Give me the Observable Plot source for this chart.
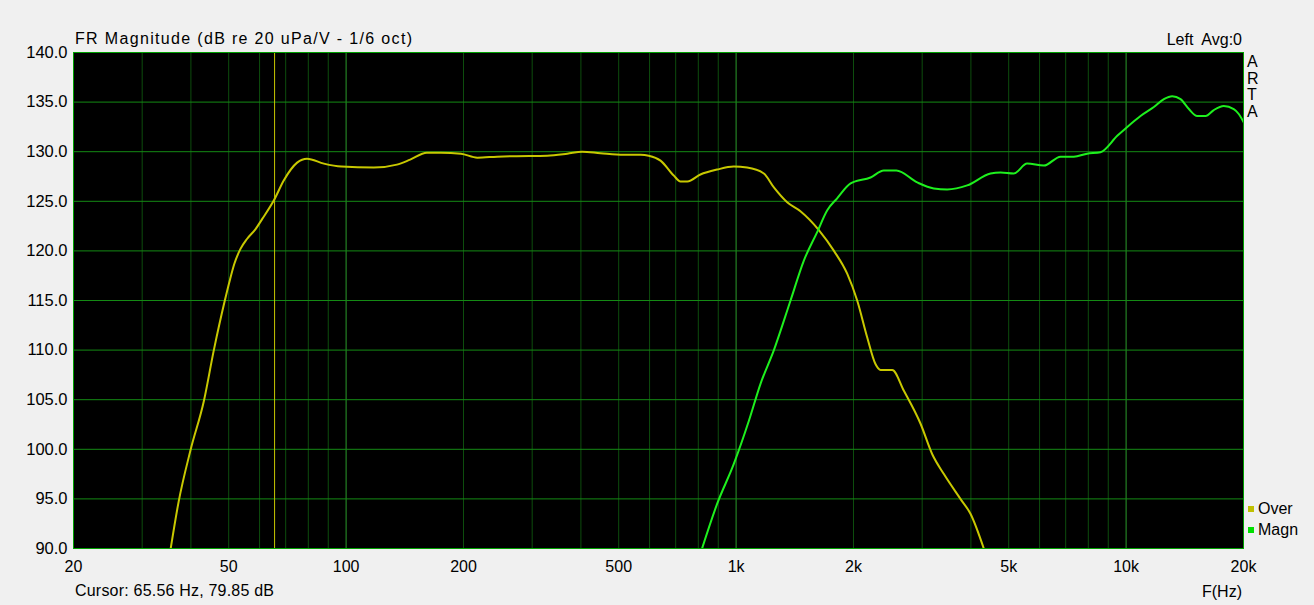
<!DOCTYPE html>
<html><head><meta charset="utf-8">
<script src="https://cdn.jsdelivr.net/npm/d3@7"></script>
<script src="https://cdn.jsdelivr.net/npm/@observablehq/plot@0.6"></script>
<style>
html,body{margin:0;padding:0;background:#f0f0f0;}
#chart svg{display:block;overflow:visible;}
</style></head><body><div id="chart"></div>
<script>
// ---- data ----
const overFreq = [35.5,37.2,39.9,43.2,45.8,48.8,50.3,51.7,53.6,55.7,58.6,60.9,65.3,69.2,74.9,79.4,87.7,97.3,117.8,135,146,161,175,197,217,244,269,328,369,403,449,515,569,597,640,692,720,750,810,894,986,1067,1178,1250,1352,1462,1630,1782,1927,2044,2168,2277,2346,2514,2693,2970,3184,3410,3760,3990,4316];
const overDb   = [90.0,94.7,99.9,104.9,110.0,114.9,117.0,118.7,120.2,121.2,122.2,123.2,125.1,127.1,128.9,129.3,128.8,128.5,128.4,128.7,129.2,129.9,129.9,129.8,129.4,129.5,129.55,129.6,129.8,130.0,129.85,129.7,129.7,129.6,129.1,127.6,127.0,127.0,127.7,128.2,128.5,128.4,127.8,126.4,124.9,124.0,122.1,120.0,117.7,115.0,111.3,108.6,108.0,108.0,105.9,102.6,99.5,97.5,95.0,93.5,90.0];
const magnFreq = [818,894,986,1079,1155,1250,1379,1491,1614,1713,1816,1966,2212,2392,2576,2914,3213,3477,3913,4491,4766,5153,5574,6153,6789,7343,7945,8595,9491,10070,10890,11780,12500,13130,13790,14490,15210,15990,16780,17800,18880,19450,20000];
const magnDb   = [90.0,94.5,98.5,102.9,106.6,110.0,115.0,119.0,121.9,124.1,125.3,126.8,127.4,128.1,128.1,126.9,126.3,126.2,126.6,127.8,127.9,127.8,128.8,128.6,129.5,129.5,129.8,129.95,131.6,132.5,133.6,134.5,135.3,135.6,135.3,134.3,133.6,133.6,134.2,134.6,134.3,133.8,133.0];

const xTicks = [20,50,100,200,500,1000,2000,5000,10000,20000];
const xTickLabels = ["20","50","100","200","500","1k","2k","5k","10k","20k"];
const yTicks = [90,95,100,105,110,115,120,125,130,135,140];
const minorGrid = [30,40,50,60,70,80,90,200,300,400,500,600,700,800,900,2000,3000,4000,5000,6000,7000,8000,9000];
const decadeGrid = [100,1000,10000];
const cursorFreq = 65.56;

const seriesNames = ["Over","Magn"];
const seriesColors = ["#c8c800","#1ef01e"];
const legendColors = ["#c0c000","#00e000"];

const over = overFreq.map((f,i)=>({f, db: overDb[i]}));
const magn = magnFreq.map((f,i)=>({f, db: magnDb[i]}));
const xTickData = xTicks.map((v,i)=>({v, label: xTickLabels[i]}));

const W = 1314, H = 605;
const mL = 73, mR = 71, mT = 52, mB = 57;
const font = "'Liberation Sans', Arial, sans-serif";

const chart = Plot.plot({
  width: W, height: H,
  marginLeft: mL, marginRight: mR, marginTop: mT, marginBottom: mB,
  style: {background: "#f0f0f0", color: "#000", fontFamily: font, fontSize: "16px"},
  x: {type: "log", domain: [20, 20000], axis: null},
  y: {domain: [90, 140], axis: null},
  marks: [
    Plot.frame({fill: "#000", stroke: null}),
    Plot.ruleX(minorGrid, {stroke: "#0d4d0d", strokeWidth: 1}),
    Plot.ruleX(decadeGrid, {stroke: "#2a9a2a", strokeWidth: 1}),
    Plot.ruleY(yTicks, {stroke: "#148a14", strokeWidth: 1}),
    Plot.ruleX([cursorFreq], {stroke: "#c8c800", strokeWidth: 1}),
    Plot.line(over, {x: "f", y: "db", stroke: seriesColors[0], strokeWidth: 2, curve: "monotone-x", clip: true}),
    Plot.line(magn, {x: "f", y: "db", stroke: seriesColors[1], strokeWidth: 2, curve: "monotone-x", clip: true}),
    Plot.frame({stroke: "#00a000", strokeWidth: 1}),
    Plot.text(yTicks, {y: d => d, text: d => d.toFixed(1), frameAnchor: "left", textAnchor: "end", dx: -6, fill: "#000", fontSize: 16.5}),
    Plot.text(xTickData, {x: "v", text: "label", frameAnchor: "bottom", lineAnchor: "top", dy: 12, fill: "#000", fontSize: 16})
  ]
});
document.getElementById("chart").appendChild(chart);

const svg = d3.select(chart);
function txt(x, y, s, anchor) {
  return svg.append("text").attr("x", x).attr("y", y).attr("text-anchor", anchor || "start")
    .attr("font-family", font).attr("font-size", 16).attr("fill", "#000").style("white-space", "pre").text(s);
}
txt(75, 44, "FR Magnitude (dB re 20 uPa/V - 1/6 oct)").attr("textLength", 337).attr("lengthAdjust", "spacing");
txt(1242, 45, "Left  Avg:0", "end");
["A","R","T","A"].forEach((c,i)=>txt(1247, 67 + i*16.7, c));
txt(75, 596, "Cursor: 65.56 Hz, 79.85 dB").attr("textLength", 199).attr("lengthAdjust", "spacing");
txt(1242, 597, "F(Hz)", "end");
seriesNames.forEach((n,i)=>{
  svg.append("rect").attr("x", 1248).attr("y", 506 + i*21).attr("width", 6).attr("height", 6).attr("fill", legendColors[i]);
  txt(1258, 514 + i*21, n);
});
</script></body></html>
